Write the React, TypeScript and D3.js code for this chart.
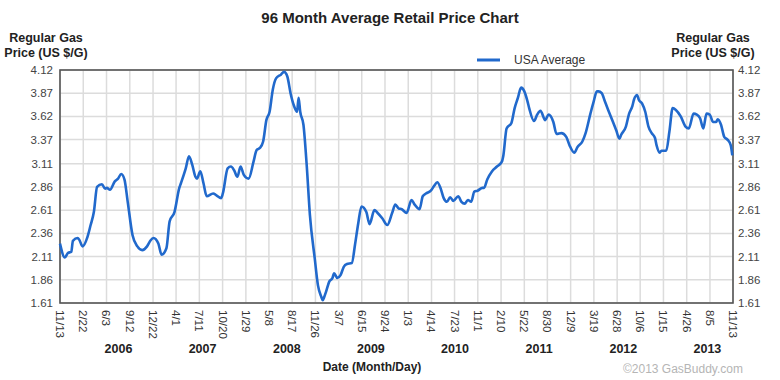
import React from "react";
import * as d3 from "d3";

// ---- data ----
const START = "2005-11-13";
const END = "2013-11-13";
const weeks = [
  0, 3, 5, 7, 8, 11, 12, 14, 17, 19, 21, 23, 26, 28, 29, 31, 34, 36, 38, 40, 42, 45, 48, 51, 54, 56, 58, 61, 63, 66, 68, 71, 74, 75, 78, 80, 82, 84,
  85, 87, 89, 91, 95, 97, 100, 101, 104, 106, 108, 110, 112, 114, 117, 120, 122, 124, 126, 128, 130, 132, 134, 137, 139, 141, 143, 145, 147, 148, 149, 151, 153, 155, 158, 160, 162, 163, 164, 165, 167,
  169, 170, 172, 174, 176, 178, 181, 183, 185, 187, 190, 192, 195, 197, 200, 203, 206, 208, 210, 212, 215, 218, 220, 223, 225, 227, 230, 232, 234, 236, 238, 240, 242, 244, 247, 249,
  251, 253, 255, 257, 259, 262, 263, 265, 268, 271, 274, 275, 277, 280, 282, 284, 286, 288, 290, 291, 294, 296, 298, 301, 303, 306, 308, 311, 314, 316, 319, 321, 324, 326, 329, 331, 333,
  334, 336, 338, 340, 343, 345, 347, 348, 351, 353, 355, 356, 358, 359, 361, 363, 365, 367, 369, 370, 372, 373, 376, 378, 380, 382, 385, 388, 390, 393, 395, 397, 399, 401, 403, 405, 407, 408, 410, 412, 414, 416, 417,
];
const prices = [
  2.25, 2.10, 2.15, 2.16, 2.28, 2.31, 2.29, 2.22, 2.32, 2.45, 2.59, 2.86, 2.89, 2.84, 2.85, 2.83, 2.92, 2.95, 3.00, 2.94, 2.70, 2.34, 2.22, 2.18, 2.22, 2.28, 2.31, 2.25, 2.13, 2.20, 2.49, 2.59, 2.85, 2.90, 3.06, 3.19, 3.10, 2.97,
  2.95, 3.03, 2.90, 2.76, 2.79, 2.77, 2.74, 2.79, 3.06, 3.08, 3.04, 2.97, 3.08, 2.99, 2.95, 3.13, 3.26, 3.28, 3.35, 3.58, 3.67, 3.91, 4.03, 4.07, 4.10, 4.05, 3.87, 3.74, 3.67, 3.82, 3.67, 3.53, 3.10, 2.56, 2.09, 1.80, 1.68, 1.64, 1.68, 1.73, 1.84,
  1.88, 1.93, 1.88, 1.91, 2.00, 2.03, 2.04, 2.24, 2.47, 2.65, 2.59, 2.46, 2.61, 2.58, 2.52, 2.45, 2.58, 2.67, 2.63, 2.62, 2.58, 2.72, 2.67, 2.62, 2.76, 2.79, 2.82, 2.87, 2.91, 2.85, 2.74, 2.70, 2.75, 2.71, 2.76, 2.70,
  2.68, 2.72, 2.70, 2.81, 2.82, 2.85, 2.85, 2.94, 3.03, 3.08, 3.13, 3.20, 3.49, 3.55, 3.71, 3.82, 3.93, 3.89, 3.78, 3.71, 3.57, 3.64, 3.68, 3.58, 3.64, 3.56, 3.43, 3.44, 3.40, 3.31, 3.23, 3.29, 3.35, 3.44, 3.65, 3.78, 3.89,
  3.89, 3.87, 3.78, 3.69, 3.56, 3.47, 3.38, 3.42, 3.51, 3.65, 3.73, 3.80, 3.85, 3.80, 3.76, 3.67, 3.51, 3.44, 3.39, 3.31, 3.23, 3.25, 3.25, 3.46, 3.71, 3.69, 3.62, 3.51, 3.49, 3.65, 3.64, 3.60, 3.49, 3.65, 3.64, 3.56, 3.56, 3.59, 3.53, 3.40, 3.37, 3.31, 3.20,
];
const yTicks = [1.61, 1.86, 2.11, 2.36, 2.61, 2.86, 3.11, 3.37, 3.62, 3.87, 4.12];
const xTickDates = [
  "2005-11-13", "2006-02-22", "2006-06-03", "2006-09-12", "2006-12-22", "2007-04-01", "2007-07-11", "2007-10-20",
  "2008-01-29", "2008-05-08", "2008-08-17", "2008-11-26", "2009-03-07", "2009-06-15", "2009-09-24", "2010-01-03",
  "2010-04-14", "2010-07-23", "2010-11-01", "2011-02-10", "2011-05-22", "2011-08-30", "2011-12-09", "2012-03-19",
  "2012-06-28", "2012-10-06", "2013-01-15", "2013-04-26", "2013-08-05", "2013-11-13",
];
const years = ["2006", "2007", "2008", "2009", "2010", "2011", "2012", "2013"];
const seriesName = "USA Average";

const parse = d3.utcParse("%Y-%m-%d");

export default function App() {
  const W = 780, H = 380;
  const left = 60, right = 733, top = 70, bottom = 303;
  const t0 = parse(START)!, t1 = parse(END)!;
  const x = d3.scaleUtc().domain([t0, t1]).range([left, right]);
  const y = d3.scaleLinear().domain([1.61, 4.12]).range([bottom, top]);
  const data = weeks.map((w, i) => ({ d: d3.utcDay.offset(t0, w * 7), v: prices[i] }));
  const line = d3.line<{ d: Date; v: number }>().x((p) => x(p.d)).y((p) => y(p.v)).curve(d3.curveMonotoneX);
  const fmt = d3.utcFormat("%-m/%-d");
  const font = "Arial, 'Liberation Sans', Helvetica, sans-serif";
  const blue = "#2169cc";
  return (
    <svg width={W} height={H} style={{ position: "absolute", left: 0, top: 0, background: "#fff" }} fontFamily={font}>
      <rect width={W} height={H} fill="#fff" />
      <text x={390} y={23} textAnchor="middle" fontSize={15} fontWeight="bold" fill="#222">96 Month Average Retail Price Chart</text>
      <text x={46} y={42} textAnchor="middle" fontSize={12.5} fontWeight="bold" fill="#222">Regular Gas</text>
      <text x={46} y={57} textAnchor="middle" fontSize={12.5} fontWeight="bold" fill="#222">Price (US $/G)</text>
      <text x={713} y={42} textAnchor="middle" fontSize={12.5} fontWeight="bold" fill="#222">Regular Gas</text>
      <text x={713} y={57} textAnchor="middle" fontSize={12.5} fontWeight="bold" fill="#222">Price (US $/G)</text>
      {/* legend */}
      <line x1={477} x2={500} y1={60} y2={60} stroke={blue} strokeWidth={3} />
      <text x={514} y={64} fontSize={12} fill="#333">{seriesName}</text>
      {/* grid */}
      {yTicks.map((t) => (
        <line key={"gy" + t} x1={left} x2={right} y1={y(t)} y2={y(t)} stroke="#dcdcdc" strokeWidth={1.5} />
      ))}
      {xTickDates.map((s) => {
        const xx = x(parse(s)!);
        return <line key={"gx" + s} x1={xx} x2={xx} y1={top} y2={bottom} stroke="#dcdcdc" strokeWidth={1.5} />;
      })}
      <rect x={left} y={top} width={right - left} height={bottom - top} fill="none" stroke="#555" strokeWidth={1.6} />
      {/* y tick labels */}
      {yTicks.map((t) => (
        <g key={"yl" + t}>
          <text x={53} y={y(t)} dy="0.35em" textAnchor="end" fontSize={11.5} fill="#444">{t.toFixed(2)}</text>
          <text x={738} y={y(t)} dy="0.35em" textAnchor="start" fontSize={11.5} fill="#444">{t.toFixed(2)}</text>
        </g>
      ))}
      {/* x tick labels */}
      {xTickDates.map((s) => {
        const xx = x(parse(s)!);
        return (
          <text key={"xl" + s} transform={`translate(${xx},${310}) rotate(90)`} dy="0.35em" textAnchor="start" fontSize={11.5} fill="#333">
            {fmt(parse(s)!)}
          </text>
        );
      })}
      {years.map((yr) => (
        <text key={yr} x={x(parse(`${yr}-07-25`)!)} y={353} textAnchor="middle" fontSize={12.5} fontWeight="bold" fill="#222">{yr}</text>
      ))}
      <text x={372} y={371} textAnchor="middle" fontSize={12} fontWeight="bold" fill="#222">Date (Month/Day)</text>
      <text x={743} y={373} textAnchor="end" fontSize={12} fill="#b5b5b5">©2013 GasBuddy.com</text>
      {/* series */}
      <path d={line(data) ?? ""} fill="none" stroke={blue} strokeWidth={2.6} strokeLinejoin="round" />
    </svg>
  );
}
